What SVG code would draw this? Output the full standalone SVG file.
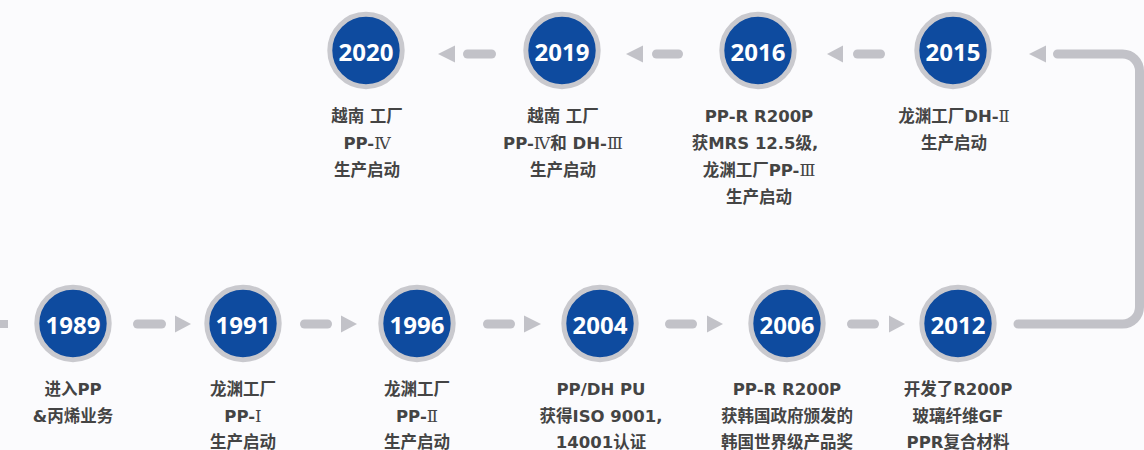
<svg xmlns="http://www.w3.org/2000/svg" width="1144" height="450" viewBox="0 0 1144 450">
<style>
.ring{fill:#0e4b9f;stroke:#c9c9ce;stroke-width:5}
.yr{font-family:"Open Sans","Noto Sans",sans-serif;font-weight:700;font-size:24px;fill:#fff;text-anchor:middle}
.lb{font-family:"DejaVu Sans","Noto Sans CJK SC",sans-serif;font-weight:700;font-size:16.5px;fill:#444;text-anchor:middle}
.rn{font-family:"DejaVu Serif","Noto Sans CJK SC",serif;font-weight:400}
.dash{stroke:#c2c2c8;stroke-width:9;stroke-linecap:round;fill:none}
.tri{fill:#c2c2c8}
</style>
<rect width="1144" height="450" fill="#fbfbfd"/>
<g id="connectors">
<rect x="0" y="320" width="8" height="8" class="tri"/>
<line class="dash" x1="137.5" y1="324" x2="161.5" y2="324"/>
<polygon class="tri" points="175,315.5 191,324 175,332.5"/>
<line class="dash" x1="304.5" y1="324" x2="327.5" y2="324"/>
<polygon class="tri" points="341,315.5 357,324 341,332.5"/>
<line class="dash" x1="487.5" y1="324" x2="510.5" y2="324"/>
<polygon class="tri" points="524,315.5 541,324 524,332.5"/>
<line class="dash" x1="669.5" y1="324" x2="692.5" y2="324"/>
<polygon class="tri" points="707,315.5 723,324 707,332.5"/>
<line class="dash" x1="851.5" y1="324" x2="874.5" y2="324"/>
<polygon class="tri" points="889,315.5 905,324 889,332.5"/>
<path class="dash" d="M1018,324 H1122.5 A17,17 0 0 0 1139.5,307 V71 A17,17 0 0 0 1122.5,54 H1057.5"/>
<polygon class="tri" points="1046,45.5 1029,54 1046,62.5"/>
<line class="dash" x1="857.5" y1="54" x2="880.5" y2="54"/>
<polygon class="tri" points="843,45.5 827,54 843,62.5"/>
<line class="dash" x1="656.5" y1="54" x2="678.5" y2="54"/>
<polygon class="tri" points="643,45.5 626,54 643,62.5"/>
<line class="dash" x1="467.5" y1="54" x2="491.5" y2="54"/>
<polygon class="tri" points="455,45.5 438,54 455,62.5"/>
</g>
<g id="n1989">
<circle class="ring" cx="73" cy="323.5" r="36.2"/>
<text class="yr" x="73" y="334">1989</text>
<text class="lb" x="73" y="395">进入PP</text>
<text class="lb" x="73" y="421.5">&amp;丙烯业务</text>
</g>
<g id="n1991">
<circle class="ring" cx="243" cy="323.5" r="36.2"/>
<text class="yr" x="243" y="334">1991</text>
<text class="lb" x="243" y="395">龙渊工厂</text>
<text class="lb" x="243" y="421.5">PP-<tspan class="rn">Ⅰ</tspan></text>
<text class="lb" x="243" y="447.5">生产启动</text>
</g>
<g id="n1996">
<circle class="ring" cx="417" cy="323.5" r="36.2"/>
<text class="yr" x="417" y="334">1996</text>
<text class="lb" x="417" y="395">龙渊工厂</text>
<text class="lb" x="417" y="421.5">PP-<tspan class="rn">Ⅱ</tspan></text>
<text class="lb" x="417" y="447.5">生产启动</text>
</g>
<g id="n2004">
<circle class="ring" cx="600" cy="323.5" r="36.2"/>
<text class="yr" x="600" y="334">2004</text>
<text class="lb" x="601" y="395">PP/DH PU</text>
<text class="lb" x="601" y="421.5">获得ISO 9001,</text>
<text class="lb" x="601" y="447.5">14001认证</text>
</g>
<g id="n2006">
<circle class="ring" cx="787" cy="323.5" r="36.2"/>
<text class="yr" x="787" y="334">2006</text>
<text class="lb" x="787" y="395">PP-R R200P</text>
<text class="lb" x="787" y="421.5">获韩国政府颁发的</text>
<text class="lb" x="787" y="447.5">韩国世界级产品奖</text>
</g>
<g id="n2012">
<circle class="ring" cx="958" cy="323.5" r="36.2"/>
<text class="yr" x="958" y="334">2012</text>
<text class="lb" x="958" y="395">开发了R200P</text>
<text class="lb" x="958" y="421.5">玻璃纤维GF</text>
<text class="lb" x="958" y="447.5">PPR复合材料</text>
</g>
<g id="n2015">
<circle class="ring" cx="953" cy="50.5" r="36.2"/>
<text class="yr" x="953" y="61">2015</text>
<text class="lb" x="954" y="122">龙渊工厂DH-<tspan class="rn">Ⅱ</tspan></text>
<text class="lb" x="954" y="149">生产启动</text>
</g>
<g id="n2016">
<circle class="ring" cx="758" cy="50.5" r="36.2"/>
<text class="yr" x="758" y="61">2016</text>
<text class="lb" x="759" y="122">PP-R R200P</text>
<text class="lb" x="755" y="149">获MRS 12.5级,</text>
<text class="lb" x="759" y="176">龙渊工厂PP-<tspan class="rn">Ⅲ</tspan></text>
<text class="lb" x="759" y="203">生产启动</text>
</g>
<g id="n2019">
<circle class="ring" cx="562" cy="50.5" r="36.2"/>
<text class="yr" x="562" y="61">2019</text>
<text class="lb" x="563" y="122">越南 工厂</text>
<text class="lb" x="563" y="149">PP-<tspan class="rn">Ⅳ</tspan>和 DH-<tspan class="rn">Ⅲ</tspan></text>
<text class="lb" x="563" y="176">生产启动</text>
</g>
<g id="n2020">
<circle class="ring" cx="366" cy="50.5" r="36.2"/>
<text class="yr" x="366" y="61">2020</text>
<text class="lb" x="367" y="122">越南 工厂</text>
<text class="lb" x="367" y="149">PP-<tspan class="rn">Ⅳ</tspan></text>
<text class="lb" x="367" y="176">生产启动</text>
</g>
</svg>
